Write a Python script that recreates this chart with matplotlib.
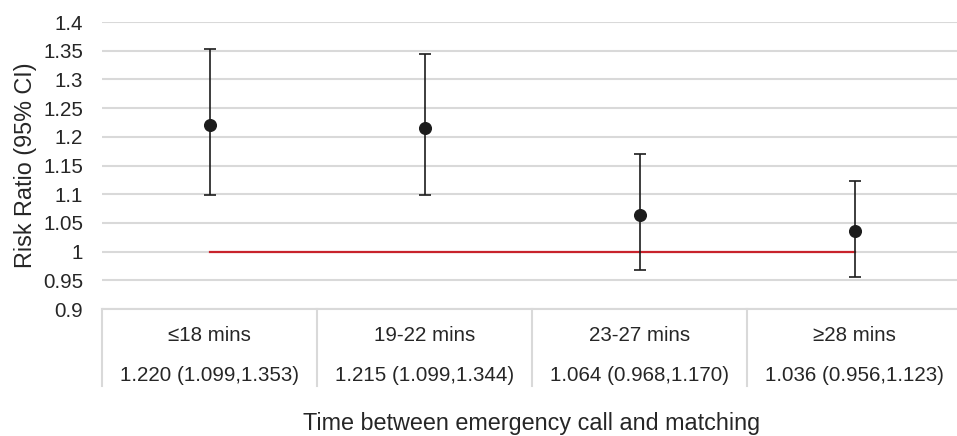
"""Risk ratio by time between emergency call and matching, with 95% CI."""

import numpy as np
from matplotlib import pyplot as plt
from matplotlib.ticker import FuncFormatter

plt.rcParams["font.family"] = ["Liberation Sans", "DejaVu Sans"]

categories = ["≤18 mins", "19-22 mins", "23-27 mins", "≥28 mins"]
risk_ratio = [1.220, 1.215, 1.064, 1.036]
ci_low = [1.099, 1.099, 0.968, 0.956]
ci_high = [1.353, 1.344, 1.170, 1.123]
y_ticks = [0.9, 0.95, 1.0, 1.05, 1.1, 1.15, 1.2, 1.25, 1.3, 1.35, 1.4]
reference_value = 1.0

grid_col = "#d9d9d9"
text_col = "#262626"

fig = plt.figure(figsize=(9.57, 4.36), dpi=100)
ax = fig.add_axes([102 / 957, 127 / 436, 855 / 957, 287 / 436])

x = np.arange(len(categories))
rr = np.asarray(risk_ratio)
lo = rr - np.asarray(ci_low)
hi = np.asarray(ci_high) - rr

ax.set_ylim(y_ticks[0], y_ticks[-1])
ax.set_xlim(-0.5, -0.5 + 855 / 215)
ax.set_yticks(y_ticks)
ax.yaxis.set_major_formatter(FuncFormatter(lambda v, _: f"{v:g}"))
ax.grid(axis="y", color=grid_col, linewidth=1.5)
ax.set_axisbelow(True)
for side in ("top", "right", "left"):
    ax.spines[side].set_visible(False)
ax.spines["bottom"].set_color(grid_col)
ax.spines["bottom"].set_linewidth(1.5)
ax.tick_params(axis="y", length=0, pad=13.5, labelsize=14.8, labelcolor=text_col)
ax.tick_params(axis="x", length=0, labelbottom=False)

# reference line at RR = 1 from first to last category
ax.plot([x[0], x[-1]], [reference_value] * 2, color="#c8232c", linewidth=1.6, zorder=2)

ax.errorbar(x, rr, yerr=[lo, hi], fmt="o", color="#1c1c1c", markersize=8.4,
            elinewidth=1.2, capsize=4.0, capthick=1.2, zorder=3)

# table-like category area under the axis
trans = ax.get_xaxis_transform()
sep_h = 77 / 287
for b in np.arange(-0.5, len(categories), 1.0):
    ax.plot([b, b], [0, -sep_h], transform=trans, color=grid_col,
            linewidth=1.5, clip_on=False)
for i, cat in enumerate(categories):
    ax.text(i, -26 / 287, cat, transform=trans, ha="center", va="center",
            fontsize=14.8, color=text_col)
    label = f"{risk_ratio[i]:.3f} ({ci_low[i]:.3f},{ci_high[i]:.3f})"
    ax.text(i, -66 / 287, label, transform=trans, ha="center", va="center",
            fontsize=14.8, color=text_col)

ax.text(1.5, -114 / 287, "Time between emergency call and matching", transform=trans,
        ha="center", va="center", fontsize=16.8, color=text_col)
fig.text(26 / 957, 1 - 165 / 436, "Risk Ratio (95% CI)", rotation=90,
         ha="center", va="center", fontsize=16.8, color=text_col)

fig.savefig("out.png", dpi=100)
